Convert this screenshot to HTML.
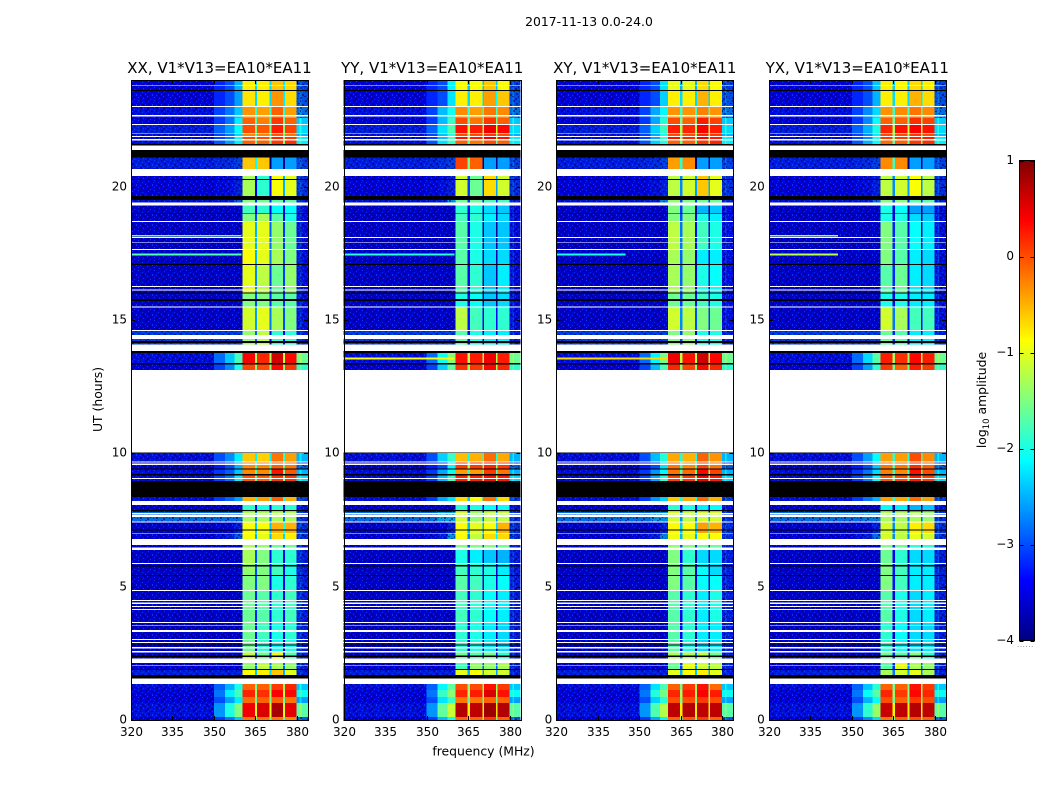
<!DOCTYPE html>
<html>
<head>
<meta charset="utf-8">
<title>2017-11-13 0.0-24.0</title>
<style>
html,body{margin:0;padding:0;background:#fff;}
svg{display:block;}
text{font-family:"DejaVu Sans","Liberation Sans",sans-serif;fill:#000;}
.tick{font-size:12px;}
.title{font-size:15px;text-anchor:middle;}
.axis-title{font-size:12.4px;text-anchor:middle;}
</style>
</head>
<body>
<svg id="figure" xmlns="http://www.w3.org/2000/svg" width="1050" height="800" viewBox="0 0 1050 800">
  <defs>
    <linearGradient id="jet" x1="0" y1="1" x2="0" y2="0">
      <stop offset="0" stop-color="#000080"/>
      <stop offset="0.125" stop-color="#0000ff"/>
      <stop offset="0.375" stop-color="#00ffff"/>
      <stop offset="0.625" stop-color="#ffff00"/>
      <stop offset="0.875" stop-color="#ff0000"/>
      <stop offset="1" stop-color="#800000"/>
    </linearGradient>
    <pattern id="speckle" patternUnits="userSpaceOnUse" width="16" height="10">
      <rect width="16" height="10" fill="#000070" fill-opacity="0.22"/>
      <g fill="#000060" fill-opacity="0.55">
        <rect x="1" y="0" width="2" height="2"/><rect x="7" y="1" width="2" height="1"/><rect x="12" y="0" width="1" height="2"/>
        <rect x="4" y="3" width="2" height="2"/><rect x="10" y="3" width="2" height="1"/><rect x="14" y="4" width="2" height="2"/>
        <rect x="0" y="6" width="2" height="1"/><rect x="6" y="6" width="1" height="2"/><rect x="12" y="7" width="2" height="2"/>
        <rect x="3" y="8" width="2" height="2"/><rect x="9" y="8" width="1" height="1"/>
      </g>
      <g fill="#0060ff" fill-opacity="0.6">
        <rect x="4" y="1" width="1" height="1"/><rect x="10" y="0" width="1" height="1"/><rect x="14" y="2" width="1" height="1"/>
        <rect x="1" y="4" width="1" height="1"/><rect x="8" y="4" width="1" height="2"/><rect x="12" y="5" width="1" height="1"/>
        <rect x="3" y="6" width="1" height="1"/><rect x="10" y="7" width="1" height="1"/><rect x="15" y="8" width="1" height="1"/>
        <rect x="6" y="9" width="1" height="1"/>
      </g>
    </pattern>
  </defs>
  <rect width="1050" height="800" fill="#fff"/>
  <text x="589" y="26" class="axis-title">2017-11-13 0.0-24.0</text>
  <text x="483.5" y="755.5" class="axis-title">frequency (MHz)</text>
  <text x="0" y="0" class="axis-title" transform="translate(102,399.5) rotate(-90)">UT (hours)</text>
  <g id="panels"></g>
  <g id="colorbar">
    <rect x="1019.5" y="160.5" width="15" height="480" fill="url(#jet)" stroke="#000" stroke-width="1"/>
    <text class="axis-title" transform="translate(986,400) rotate(-90)">log<tspan font-size="8.5px" dy="3">10</tspan><tspan dy="-3"> amplitude</tspan></text>
    <text x="1017" y="647" font-size="7px" letter-spacing="0.6" style="fill:#777">......</text>
  </g>
</svg>
<script>
// ---- axis limits ----
const freqMin = 320;
const freqMax = 384;
const utMin = 0;
const utMax = 24;

// ---- labels ----
const panelTitles = ["XX, V1*V13=EA10*EA11", "YY, V1*V13=EA10*EA11", "XY, V1*V13=EA10*EA11", "YX, V1*V13=EA10*EA11"];
const freqTicks = [320, 335, 350, 365, 380];
const utTicks = [0, 5, 10, 15, 20];
const colorbarTicks = [1, 0, -1, -2, -3, -4];

// ---- spectral windows (MHz) ----
const bandEdgesMHz = [[360.4, 364.8], [365.6, 370.1], [370.8, 375], [375.6, 379.9]];
const shoulderEdgesMHz = [350, 354, 357.5, 360.4];
const edgeLineMHz = [381, 381.6];

// ---- time segments, top to bottom: [UT start, UT end] ----
const utSegments = [
[24,23.59],[23.59,22.99],[22.99,22.58],[22.58,22.31],[22.31,22.01],[22.01,21.86],[21.86,21.75],[21.75,21.56],
[21.11,20.66],[20.4,19.65],[19.65,19.39],[19.31,18.98],[18.98,18.68],[18.68,17.63],[17.63,17.06],[17.06,16.01],
[16.01,15.49],[15.49,14.59],[14.59,14.09],[13.84,13.39],[13.39,13.13],[10.05,9.67],[9.67,9.41],[9.41,9.19],
[9.19,8.93],[8.36,8.21],[8.07,7.8],[7.8,7.43],[7.43,7.01],[7.01,6.56],[6.56,6.38],[6.38,5.85],
[5.85,5.4],[5.4,4.88],[4.88,3.68],[3.68,3],[3,2.55],[2.55,2.3],[2.14,1.88],[1.88,1.55],
[1.35,1.13],[1.13,0.86],[0.86,0.64],[0.64,0.11],[0.11,0]];

// ---- log10 amplitude per segment: [background, shoulder inner, shoulder outer, upper edge] ----
const backgroundLevels = [
[-3.4,-3,-2.5,-3],[-3.4,-3,-2.6,-2.9],[-3.3,-2.8,-2.4,-2.7],[-3.4,-2.8,-2.2,-2.4],[-3.2,-2.6,-2.1,-2.3],[-3.3,-2.8,-2.3,-2.5],[-3.3,-2.8,-2.1,-2.2],[-3.3,-2.6,-2.2,-2.2],
[-3.2,-3.1,-3,-3],[-3.4,-3.3,-3.2,-3.1],[-3.3,-3.2,-2.8,-3.2],[-3.5,-3.5,-3.5,-3.3],[-3.5,-3.5,-3.5,-3.3],[-3.5,-3.5,-3.5,-3.3],[-3.5,-3.5,-3.5,-3.3],[-3.5,-3.5,-3.5,-3.3],
[-3.5,-3.5,-3.5,-3.3],[-3.5,-3.5,-3.5,-3.3],[-3,-3,-3,-3.2],[-3.3,-2.4,-1.8,-1.6],[-3.4,-2.7,-2,-1.9],[-3.3,-2.7,-2.2,-2.5],[-3.5,-3,-2.5,-2.8],[-3.3,-2.9,-2.4,-2.5],
[-3.3,-2.8,-2.2,-2.3],[-3.3,-2.9,-2.6,-3],[-3.5,-3.5,-3.5,-3.3],[-2.7,-2.7,-2.7,-3.1],[-3.5,-3.4,-3.2,-3.1],[-3.4,-3.2,-2.8,-3.1],[-3.5,-3.5,-3.5,-3.2],[-3.5,-3.5,-3.5,-3.2],
[-3.5,-3.5,-3.5,-3.2],[-3.5,-3.5,-3.5,-3.2],[-3.5,-3.5,-3.5,-3.2],[-3.5,-3.5,-3.5,-3.2],[-3.5,-3.5,-3.5,-3.2],[-3.5,-3.5,-3.5,-3.2],[-3.4,-3.4,-3.4,-3.2],[-3.2,-3.2,-3.2,-3.2],
[-3.3,-2.5,-2,-2.4],[-3.4,-2.2,-1.8,-2.1],[-3.4,-2.6,-2.2,-2.6],[-3.3,-2,-1.5,-1.7],[-3.4,-2.8,-2.4,-2.8]];

// ---- log10 amplitude per segment, per band, per polarisation ----
const xxBandLevels = [
[-.8,-.8,-.6,-.7],[-.75,-.8,-.35,-.7],[-.35,-.4,-.1,-.4],[-.1,-.25,.1,-.1],[0,-.05,.25,.05],[-.3,-.3,-.05,-.2],[0,0,.2,.1],[-.1,-.1,.1,.15],
[-.6,-.6,-2.6,-2.6],[-1.3,-1.9,-.9,-1],[-1.5,-1.6,-1.7,-1.7],[-1.8,-1.9,-2.1,-2.1],[-1.5,-1.3,-1.7,-2],[-1,-1,-1.4,-1.6],[-.9,-1,-1.3,-1.5],[-1,-1.2,-1.6,-1.4],
[-1.5,-1.5,-1.7,-1.7],[-1.1,-1,-1.3,-1.5],[-1.4,-1.2,-1.9,-1.9],[.4,.2,.6,.35],[.05,0,.35,.1],[-.6,-.65,-.2,-.4],[-.3,-.3,-.1,-.2],[-.3,-.3,.3,-.05],
[-.05,-.1,.1,.1],[-.5,-.4,-.1,-.5],[-1.9,-2,-1.9,-1.9],[-1.3,-1.3,-1.3,-1.3],[-.9,-.9,-.5,-.5],[-.9,-1,-.7,-.8],[-1.3,-1.4,-1.6,-1.6],[-1.3,-1.5,-1.9,-1.9],
[-1.4,-1.5,-1.8,-2],[-1.5,-1.5,-2,-1.9],[-1.6,-1.7,-1.9,-1.8],[-1.6,-1.8,-2,-1.9],[-1.6,-1.9,-2.1,-2],[-1.2,-1.6,-1,-1.7],[-1.4,-1.2,-1.3,-1.4],[-.9,-.8,-.6,-1],
[-.1,-.1,.1,.2],[.2,.15,.4,.35],[-.15,-.1,-.1,-.2],[.45,.55,.8,.5],[-.2,-.2,-.2,-.3]];

const yyBandLevels = [
[-.9,-.9,-.6,-.9],[-.8,-.8,-.4,-.6],[-.3,-.4,-.2,-.3],[0,-.2,.1,-.1],[.3,.25,.45,.35],[0,0,.1,0],[.3,.25,.45,.3],[-.1,-.2,0,-.1],
[.05,-.1,-2.6,-2.6],[-1.1,-1.6,-.7,-1.1],[-1.6,-1.6,-1.8,-1.8],[-1.9,-2,-2.3,-2.4],[-1.8,-1.9,-2.2,-2.3],[-1.7,-2,-2.4,-2.4],[-1.7,-2,-2.3,-2.3],[-1.7,-1.9,-2.4,-2.2],
[-2,-2.1,-2.4,-2.3],[-1.2,-1.8,-1.9,-1.9],[-1.7,-2,-2.2,-2.2],[.3,.25,.45,.25],[.15,.1,.35,.2],[-.55,-.5,-.15,-.45],[.1,.1,.2,.1],[-.4,-.4,.1,-.2],
[.2,.2,.3,.25],[-.7,-.9,-.2,-.7],[-1.9,-2,-2.1,-2.1],[-1.1,-1.4,-1.2,-1.2],[-.9,-1,-.9,-.5],[-.9,-1.2,-.7,-.7],[-1.5,-1.5,-1.5,-1.6],[-2,-2.2,-2.4,-2.5],
[-1.8,-1.9,-2,-2.2],[-1.7,-1.8,-2,-2.1],[-1.8,-1.9,-2.1,-2.2],[-1.9,-2,-2.2,-2.3],[-1.9,-2,-2.2,-2.3],[-1.6,-1.7,-1.6,-1.9],[-1.8,-1.4,-1.4,-1.3],[-1,-.9,-1.1,-1.1],
[0,0,.3,.1],[.2,.25,.55,.3],[-.2,-.2,-.1,-.1],[.75,.7,.85,.75],[-.1,-.1,.1,-.1]];

const xyBandLevels = [
[-1,-1,-.7,-.9],[-.8,-.8,-.5,-.8],[-.35,-.35,-.25,-.35],[0,-.1,.25,.05],[.25,.2,.4,.25],[0,0,.2,.1],[.3,.2,.4,.25],[-.1,-.1,.1,.2],
[-.4,-.3,-2.6,-2.6],[-1.2,-1.1,-.6,-1],[-1.4,-1.5,-1.6,-1.6],[-1.5,-1.6,-2.5,-2.4],[-1.5,-1.5,-2,-2.2],[-1.2,-1.3,-1.8,-2],[-1.3,-1.4,-2.2,-2.2],[-1.3,-1.4,-2,-2.1],
[-1.6,-1.6,-1.8,-2],[-1.1,-1.2,-1.5,-1.6],[-1.5,-1.4,-2,-2],[.45,.3,.6,.35],[.2,.05,.35,.2],[-.45,-.5,-.1,-.35],[-.2,-.3,.05,-.2],[-.2,-.15,.35,.05],
[.05,.1,.4,.25],[-.6,-.5,-.15,-.5],[-1.9,-2,-2.2,-2.1],[-1.1,-1.2,-1.1,-1.1],[-.85,-.9,-.4,-.5],[-.95,-1,-.9,-.9],[-1.4,-1.5,-1.6,-1.6],[-1.5,-1.9,-2.3,-2.3],
[-1.5,-1.7,-2.1,-2.3],[-1.5,-1.7,-2.1,-2.1],[-1.7,-1.9,-2.2,-2],[-1.7,-1.9,-2.2,-2.2],[-1.7,-2,-2.3,-2.2],[-1.3,-1.3,-1.2,-1.6],[-1.6,-1,-1.1,-1.2],[-1,-.9,-.8,-1],
[-.1,.1,.3,-.15],[.2,.25,.4,.25],[0,0,.1,0],[.7,.75,.7,.7],[-.1,-.05,.1,-.1]];

const yxBandLevels = [
[-.8,-.85,-.7,-.8],[-.8,-.8,-.5,-.7],[-.35,-.3,-.2,-.3],[-.1,-.1,.15,.05],[.2,.3,.4,.3],[0,0,.1,0],[.1,.1,.2,.25],[-.15,-.1,.1,.15],
[-.3,-.3,-2.6,-2.6],[-1.2,-1.1,-.9,-1.2],[-1.5,-1.5,-1.7,-1.7],[-2,-2.1,-2.6,-2.6],[-2,-2,-2.3,-2.4],[-1.5,-1.7,-2.1,-2.2],[-1.5,-1.7,-2.2,-2.3],[-1.7,-1.6,-2.2,-2.3],
[-2,-2,-2.2,-2.2],[-1.1,-1.3,-1.8,-1.8],[-1.6,-1.7,-2.2,-2.2],[.25,.15,.35,.25],[.1,-.1,.25,.1],[-.4,-.4,0,-.3],[-.2,-.2,.15,-.1],[-.25,-.3,.3,0],
[-.05,0,.25,.05],[-.4,-.45,-.15,-.4],[-2.1,-2.2,-2.5,-2.4],[-1.3,-1.3,-1.3,-1.4],[-1.1,-1.2,-.8,-.7],[-1.1,-1.2,-1,-1.1],[-1.5,-1.6,-1.9,-1.9],[-1.6,-1.9,-2.3,-2.3],
[-1.5,-1.8,-2.2,-2.2],[-1.5,-1.8,-2.2,-2.2],[-1.7,-2,-2.3,-2.2],[-1.9,-2.1,-2.3,-2.3],[-1.9,-2.1,-2.3,-2.2],[-1.6,-1.7,-1.5,-1.9],[-1.7,-1,-1.3,-1.4],[-1.3,-1.1,-1,-1.3],
[-.1,-.1,.3,.1],[.2,.1,.35,.2],[0,-.1,.1,0],[.65,.7,.75,.7],[-.2,-.1,0,-.1]];

const panelBandLevels = [xxBandLevels, yyBandLevels, xyBandLevels, yxBandLevels];
const shoulderBoost = [0, 0.35, 0.25, 0.1];

// ---- narrow interference lines: [panel, UT start, UT end, MHz start, MHz end, level] ----
const rfiLines = [
[0,18.19,18.15,320,360,-1.5],[0,17.49,17.45,320,360,-1.7],
[1,17.49,17.45,320,360,-1.9],[1,13.6,13.55,320,360,-0.9],
[2,17.49,17.45,320,345,-2],[2,13.6,13.55,320,360,-0.7],
[3,18.19,18.15,320,345,-1.2],[3,17.49,17.45,320,345,-1.2]];

// ---- flagged intervals [UT start, UT end] ----
const whiteFlagsUT = [
[23.82,23.79],[23.03,22.99],[22.68,22.64],[22.35,22.31],[22.02,21.99],[21.9,21.86],[21.78,21.74],[21.54,21.38],
[20.66,20.4],[19.4,19.29],[18.71,18.68],[18.11,18.08],[17.91,17.88],[17.66,17.63],[16.28,16.24],[16.15,16.11],
[15.5,15.46],[14.63,14.59],[14.44,14.29],[14.09,13.84],[13.13,10.04],[9.69,9.65],[9.61,9.57],[9.08,9.03],
[8.21,8.07],[7.77,7.71],[7.68,7.62],[7.44,7.4],[7.02,6.99],[6.79,6.56],[6.46,6.38],[5.89,5.85],
[4.88,4.84],[4.5,4.46],[4.4,4.35],[4.28,4.24],[4.16,4.13],[3.68,3.63],[3.55,3.53],[3.38,3.3],
[3.04,3],[2.93,2.89],[2.73,2.69],[2.58,2.54],[2.3,2.14],[2.07,2.04],[1.55,1.35]];
const blackFlagsUT = [
[23.63,23.59],[21.6,21.54],[21.38,21.1],[20.28,20.25],[19.65,19.5],[19,18.98],[17.1,17.06],[16.04,15.99],
[15.79,15.72],[14.21,14.14],[13.84,13.77],[13.38,13.34],[10.04,10.01],[9.44,9.39],[9.23,9.16],[8.96,8.36],
[7.88,7.84],[7.15,7.11],[5.82,5.76],[5.43,5.4],[2.84,2.8],[2.41,2.37],[1.91,1.88],[1.69,1.55]];

// ---- layout ----
const panelLefts = [131, 343.7, 556.3, 768.8];
const panelWidth = 177;
const plotTop = 80;
const plotBottom = 720;
const barTop = 160.5;
const barBottom = 640.5;
const barX0 = 1019.5;
const barX1 = 1034.5;
const gapDrop = 1.5;
const quietLevel = -2.7;

const svgNS = "http://www.w3.org/2000/svg";
const panelsRoot = document.getElementById("panels");

function clamp01(v) { return Math.max(0, Math.min(1, v)); }
function jetColor(level) {
  const t = clamp01((level + 4) / 5);
  const r = clamp01(Math.min(4 * t - 1.5, -4 * t + 4.5));
  const g = clamp01(Math.min(4 * t - 0.5, -4 * t + 3.5));
  const b = clamp01(Math.min(4 * t + 0.5, -4 * t + 2.5));
  return "rgb(" + Math.round(r * 255) + "," + Math.round(g * 255) + "," + Math.round(b * 255) + ")";
}
function xScale(panel, mhz) { return panelLefts[panel] + (mhz - freqMin) / (freqMax - freqMin) * panelWidth; }
function yScale(ut) { return plotBottom - (ut - utMin) / (utMax - utMin) * (plotBottom - plotTop); }
function barScale(level) { return barBottom - (level + 4) / 5 * (barBottom - barTop); }

function addRect(parent, name, x0, x1, y0, y1, fill) {
  const el = document.createElementNS(svgNS, "rect");
  
  
  el.setAttribute("x", x0.toFixed(2));
  el.setAttribute("y", y0.toFixed(2));
  el.setAttribute("width", Math.max(0, x1 - x0).toFixed(2));
  el.setAttribute("height", Math.max(0, y1 - y0).toFixed(2));
  el.setAttribute("fill", fill);
  el.setAttribute("shape-rendering", "crispEdges");
  parent.appendChild(el);
  return el;
}
function addLine(parent, name, x1, y1, x2, y2) {
  const el = document.createElementNS(svgNS, "line");
  
  
  el.setAttribute("x1", x1);
  el.setAttribute("y1", y1);
  el.setAttribute("x2", x2);
  el.setAttribute("y2", y2);
  el.setAttribute("stroke", "#000");
  el.setAttribute("stroke-width", "1");
  el.setAttribute("shape-rendering", "crispEdges");
  parent.appendChild(el);
}
function addText(parent, name, x, y, anchor, cls, content) {
  const el = document.createElementNS(svgNS, "text");
  
  
  el.setAttribute("x", x);
  el.setAttribute("y", y);
  el.setAttribute("text-anchor", anchor);
  el.setAttribute("class", cls);
  el.textContent = content;
  parent.appendChild(el);
}

function drawSegment(group, p, s) {
  const bands = panelBandLevels[p][s];
  const bg = backgroundLevels[s];
  const y0 = yScale(utSegments[s][0]);
  const y1 = yScale(utSegments[s][1]);
  const cell = function (name, f0, f1, level) {
    addRect(group, name, xScale(p, f0), xScale(p, f1), y0, y1, jetColor(level));
  };
  const boost = function (level) { return level > -3 ? level + shoulderBoost[p] : level; };
  cell("background-cell", freqMin, shoulderEdgesMHz[0], bg[0]);
  cell("shoulder-cell", shoulderEdgesMHz[0], shoulderEdgesMHz[1], (bg[0] + bg[1]) / 2);
  cell("shoulder-cell", shoulderEdgesMHz[1], shoulderEdgesMHz[2], boost(bg[1]));
  cell("shoulder-cell", shoulderEdgesMHz[2], shoulderEdgesMHz[3], boost(bg[2]));
  bands.forEach(function (level, b) {
    cell("band-cell", bandEdgesMHz[b][0], bandEdgesMHz[b][1], level);
    if (b < bands.length - 1) {
      cell("band-gap-cell", bandEdgesMHz[b][1], bandEdgesMHz[b + 1][0], Math.min(level, bands[b + 1]) - gapDrop);
    }
  });
  cell("upper-edge-cell", bandEdgesMHz[3][1], freqMax, bg[3]);
  cell("upper-edge-line-cell", edgeLineMHz[0], edgeLineMHz[1], bg[3] + 0.3);
  const speckleEnd = bg[2] <= quietLevel ? shoulderEdgesMHz[3] : shoulderEdgesMHz[0];
  addRect(group, "background-speckle", xScale(p, freqMin), xScale(p, speckleEnd), y0, y1, "url(#speckle)");
  if (bg[3] <= quietLevel) {
    addRect(group, "upper-edge-speckle", xScale(p, bandEdgesMHz[3][1]), xScale(p, freqMax), y0, y1, "url(#speckle)");
  }
}

function drawPanel(p) {
  const group = document.createElementNS(svgNS, "g");
  
  
  panelsRoot.appendChild(group);

  const left = xScale(p, freqMin);
  const right = xScale(p, freqMax);

  const heatmap = document.createElementNS(svgNS, "g");
  
  
  group.appendChild(heatmap);

  utSegments.forEach(function (_, s) { drawSegment(heatmap, p, s); });

  rfiLines.forEach(function (r) {
    if (r[0] === p) {
      addRect(heatmap, "interference-line", xScale(p, r[3]), xScale(p, r[4]), yScale(r[1]), yScale(r[2]) + 0.6, jetColor(r[5]));
    }
  });
  whiteFlagsUT.forEach(function (f) {
    addRect(heatmap, "flagged-white-band", left, right, yScale(f[0]), yScale(f[1]), "#fff");
  });
  blackFlagsUT.forEach(function (f) {
    addRect(heatmap, "flagged-black-band", left, right, yScale(f[0]), yScale(f[1]), "#000");
  });

  const frame = document.createElementNS(svgNS, "rect");
  
  
  frame.setAttribute("x", Math.round(left) + 0.5);
  frame.setAttribute("y", plotTop + 0.5);
  frame.setAttribute("width", Math.round(panelWidth));
  frame.setAttribute("height", plotBottom - plotTop);
  frame.setAttribute("fill", "none");
  frame.setAttribute("stroke", "#000");
  frame.setAttribute("shape-rendering", "crispEdges");
  group.appendChild(frame);

  freqTicks.forEach(function (f) {
    const x = Math.round(xScale(p, f)) + 0.5;
    addLine(group, "x-tick-bottom", x, plotBottom, x, plotBottom - 4);
    addLine(group, "x-tick-top", x, plotTop, x, plotTop + 4);
    addText(group, "x-tick-label", x, plotBottom + 16, "middle", "tick", String(f));
  });
  utTicks.forEach(function (u) {
    const y = Math.round(yScale(u)) + 0.5;
    addLine(group, "y-tick-left", left, y, left + 4, y);
    addLine(group, "y-tick-right", right - 4, y, right, y);
    addText(group, "y-tick-label", left - 4, y + 3, "end", "tick", String(u));
  });
  addText(group, "panel-title", (left + right) / 2, 73, "middle", "title", panelTitles[p]);
}

panelTitles.forEach(function (_, p) { drawPanel(p); });

const barGroup = document.getElementById("colorbar");
colorbarTicks.forEach(function (level) {
  const y = Math.round(barScale(level)) + 0.5;
  addLine(barGroup, "colorbar-tick-left", barX0, y, barX0 + 4, y);
  addLine(barGroup, "colorbar-tick-right", barX1 - 4, y, barX1, y);
  addText(barGroup, "colorbar-tick-label", 1014, y + 2.5, "end", "tick", String(level).replace("-", "\u2212"));
});
</script>
</body>
</html>
